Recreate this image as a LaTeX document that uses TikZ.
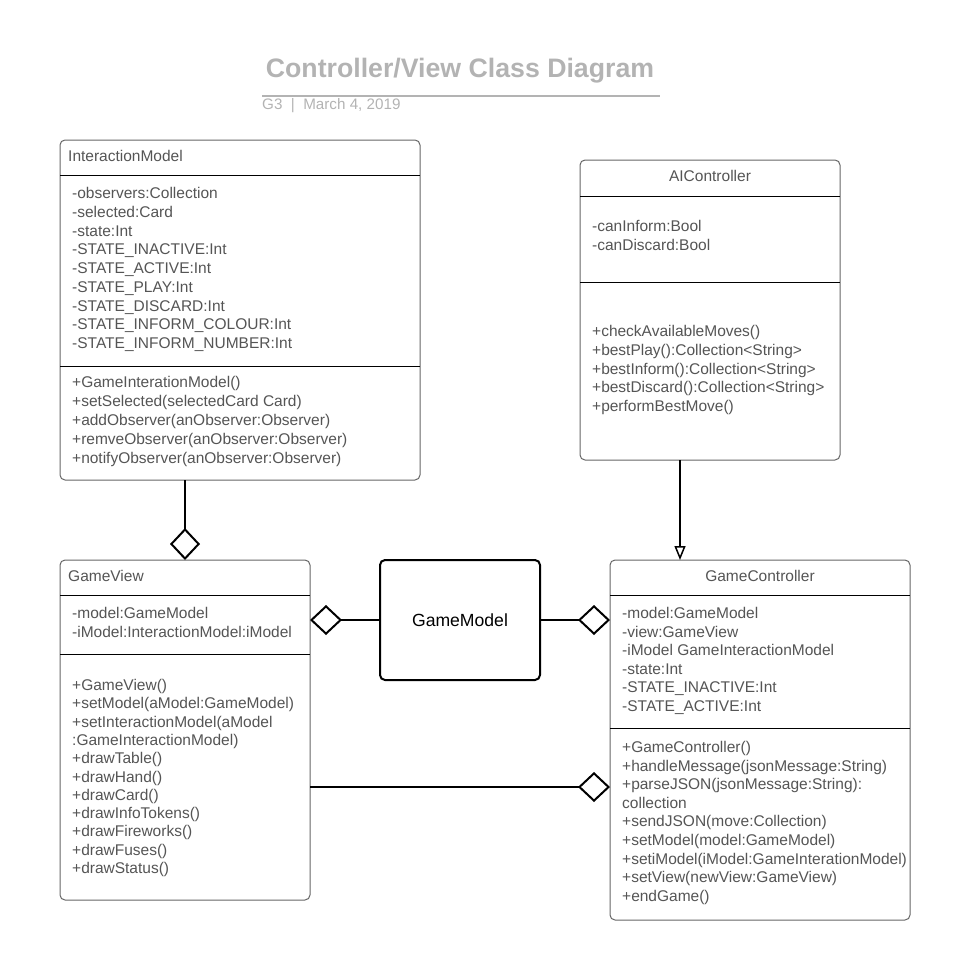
\documentclass[tikz,border=0pt]{standalone}
\usepackage{fontspec}
\setmainfont{Liberation Sans}
\usetikzlibrary{arrows.meta}
\definecolor{txt}{HTML}{555555}
\definecolor{boxgray}{HTML}{666666}
\definecolor{titlegray}{HTML}{B3B3B3}
\newcommand\memberlist[5]{%
  \foreach \t [count=\i] in {#5} {\node[member] (#1\i) at (#2,{#3+(\i-1)*#4}) {\t};}}
\begin{document}
\begin{tikzpicture}[x=1pt,y=-1pt,
  umlbox/.style={draw=boxgray,line width=1pt,rounded corners=5pt,inner sep=0pt,outer sep=0pt,fill=white},
  member/.style={anchor=base west,inner sep=0pt,font=\fontsize{15.5}{18}\selectfont,text=txt},
  header/.style={inner sep=0pt,font=\fontsize{15.5}{18}\selectfont,text=txt},
  sep/.style={draw=black,line width=1pt},
  conn/.style={draw=black,line width=2pt},
  agg/.style={conn,-{Diamond[open,length=32pt,width=30pt,line width=2pt]}},
  gen/.style={conn,-{Triangle[open,length=14pt,width=11pt,line width=1.5pt]}}]
\useasboundingbox (0,0) rectangle (963,958);
% title
\node[anchor=base,inner sep=0pt,font=\fontsize{26.7}{30}\selectfont\bfseries,text=titlegray] (title) at (460,77.5) {Controller/View Class Diagram};
\draw[titlegray,line width=1.5pt] (262,96) coordinate (tl) -- (660,96) coordinate (tr);
\node[anchor=base west,inner sep=0pt,font=\fontsize{15.2}{17}\selectfont,text=titlegray] (subtitle) at (262,109.5) {G3 \ | \ March 4, 2019};

% InteractionModel
\node[umlbox,minimum width=360pt,minimum height=340pt] (im) at (240,310) {};
\draw[sep] (im.west |- 0,175) -- (im.east |- 0,175);
\draw[sep] (im.west |- 0,366) -- (im.east |- 0,366);
\node[header,anchor=base west] (imh) at (68,161.5) {InteractionModel};
\memberlist{ima}{72}{198.5}{18.75}{-observers:Collection,-selected:Card,-state:Int,-STATE\_INACTIVE:Int,-STATE\_ACTIVE:Int,-STATE\_PLAY:Int,-STATE\_DISCARD:Int,-STATE\_INFORM\_COLOUR:Int,-STATE\_INFORM\_NUMBER:Int}
\memberlist{imm}{72}{387.5}{18.9}{+GameInterationModel(),+setSelected(selectedCard Card),+addObserver(anObserver:Observer),+remveObserver(anObserver:Observer),+notifyObserver(anObserver:Observer)}

% AIController
\node[umlbox,minimum width=260pt,minimum height=300pt] (ai) at (710,310) {};
\draw[sep] (ai.west |- 0,196) -- (ai.east |- 0,196);
\draw[sep] (ai.west |- 0,282) -- (ai.east |- 0,282);
\node[header,anchor=base] (aih) at (710,181.5) {AIController};
\memberlist{aia}{592}{231.5}{18.75}{-canInform:Bool,-canDiscard:Bool}
\memberlist{aim}{592}{336.5}{18.75}{+checkAvailableMoves(),+bestPlay():Collection<String>,+bestInform():Collection<String>,+bestDiscard():Collection<String>,+performBestMove()}

% GameView
\node[umlbox,minimum width=250pt,minimum height=340pt] (gv) at (185,730) {};
\draw[sep] (gv.west |- 0,595) -- (gv.east |- 0,595);
\draw[sep] (gv.west |- 0,654) -- (gv.east |- 0,654);
\node[header,anchor=base west] (gvh) at (68,581.5) {GameView};
\memberlist{gva}{72}{618.5}{18.75}{-model:GameModel,-iModel:InteractionModel:iModel}
\memberlist{gvm}{72}{690.5}{18.3}{+GameView(),+setModel(aModel:GameModel),+setInteractionModel(aModel,:GameInteractionModel),+drawTable(),+drawHand(),+drawCard(),+drawInfoTokens(),+drawFireworks(),+drawFuses(),+drawStatus()}

% GameController
\node[umlbox,minimum width=300pt,minimum height=360pt] (gc) at (760,740) {};
\draw[sep] (gc.west |- 0,595) -- (gc.east |- 0,595);
\draw[sep] (gc.west |- 0,728) -- (gc.east |- 0,728);
\node[header,anchor=base] (gch) at (760,581.5) {GameController};
\memberlist{gca}{622}{618.5}{18.6}{-model:GameModel,-view:GameView,-iModel GameInteractionModel,-state:Int,-STATE\_INACTIVE:Int,-STATE\_ACTIVE:Int}
\memberlist{gcm}{622}{752.5}{18.6}{+GameController(),+handleMessage(jsonMessage:String),+parseJSON(jsonMessage:String):,collection,+sendJSON(move:Collection),+setModel(model:GameModel),+setiModel(iModel:GameInterationModel),+setView(newView:GameView),+endGame()}

% GameModel
\node[draw=black,line width=2pt,rounded corners=5pt,minimum width=160pt,minimum height=120pt,inner sep=0pt,font=\fontsize{17.6}{20}\selectfont] (gm) at (460,620) {GameModel};

% connectors
\draw[agg] (im.south -| 185,0) -- (gv.north -| 185,0);
\draw[gen] (ai.south -| 680,0) -- (gc.north -| 680,0);
\draw[agg] (gm.west) -- (gv.east |- gm.west);
\draw[agg] (gm.east) -- (gc.west |- gm.east);
\draw[agg] (gv.east |- 0,787) -- (gc.west |- 0,787);
\end{tikzpicture}
\end{document}
